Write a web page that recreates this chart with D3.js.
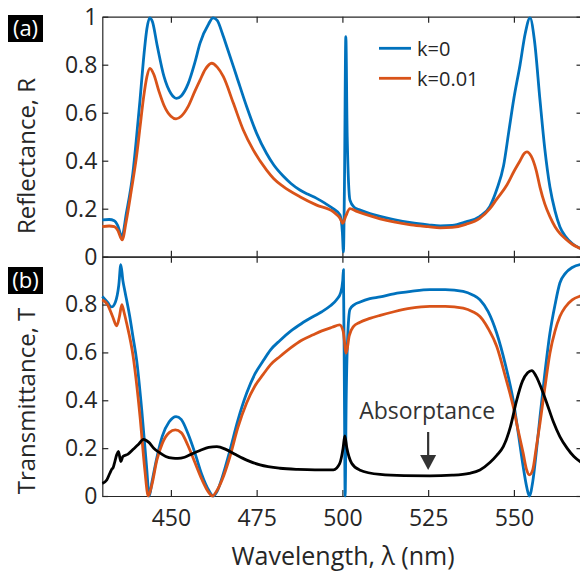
<!DOCTYPE html>
<html>
<head>
<meta charset="utf-8">
<script src="https://cdn.jsdelivr.net/npm/d3@7"></script>
<style>
  body { margin: 0; background: #fff; }
  text { font-family: "Open Sans", sans-serif; fill: #262626; }
  .axis path, .axis line { stroke: #262626; stroke-width: 1.2; }
  .axis text { font-size: 23px; }
  .line { fill: none; stroke-width: 2.8; stroke-linejoin: round; }
</style>
</head>
<body>
<div id="chart"></div>
<script>

// tick values
var wavelengthTicks = [450, 475, 500, 525, 550];
var reflTicks = [0, 0.2, 0.4, 0.6, 0.8, 1];
var transTicks = [0, 0.2, 0.4, 0.6, 0.8];

// reflectance, k=0  [wavelength nm, R]
var reflK0 = [
  [430,0.153],[432,0.155],[433.5,0.15],[434.5,0.13],[435.7,0.083],[437,0.18],
  [438.9,0.347],[440,0.50],[441,0.653],[442,0.82],[443,0.95],[443.8,0.995],
  [444.6,0.98],[446,0.88],[448,0.75],[450,0.68],[451.6,0.66],[453,0.67],
  [455,0.72],[457,0.81],[458.5,0.89],[461,0.97],[462.3,0.995],[463.5,0.985],
  [465,0.93],[466.3,0.875],[469.2,0.75],[472.1,0.625],[475,0.514],[477.9,0.43],
  [480,0.382],[482.8,0.335],[485,0.305],[487.6,0.278],[490,0.26],[492.5,0.243],
  [495,0.222],[497.3,0.20],[499.3,0.174],[500,0.1],[500.3,0.02],[500.6,0.3],
  [501,0.917],[501.4,0.5],[502.2,0.236],[503.5,0.205],[505,0.195],[508,0.18],
  [511,0.168],[515,0.155],[520,0.142],[525,0.133],[528.5,0.128],[532,0.13],
  [536,0.145],[540,0.167],[543,0.21],[545,0.28],[547,0.38],[548.5,0.52],
  [550,0.66],[551.8,0.80],[553.3,0.93],[554.7,0.995],[556,0.90],[557.6,0.653],
  [559,0.45],[560.5,0.29],[562,0.19],[563.4,0.125],[565,0.085],[567,0.055],
  [569.3,0.035],[570,0.03]
];

// reflectance, k=0.01
var reflK1 = [
  [430,0.125],[432,0.128],[433.5,0.125],[434.5,0.11],[435.8,0.07],[437,0.15],
  [438.5,0.28],[440,0.42],[441,0.54],[442,0.66],[443,0.75],[443.9,0.785],
  [445,0.76],[446.5,0.69],[448,0.63],[450,0.585],[451.5,0.574],[453,0.585],
  [455,0.625],[457,0.69],[458.5,0.736],[460,0.78],[461.9,0.806],[463.5,0.79],
  [465.3,0.75],[468.2,0.64],[471.1,0.528],[474,0.445],[477.9,0.361],[480,0.325],
  [482.8,0.292],[487.6,0.25],[492.5,0.215],[497.3,0.1875],[499.3,0.16],
  [500.1,0.139],[501,0.17],[502.2,0.2],[504,0.19],[507,0.175],[511,0.158],
  [515,0.145],[520,0.133],[525,0.125],[528.5,0.12],[532,0.122],[536,0.135],
  [540,0.16],[543,0.2],[545,0.24],[548,0.30],[550,0.355],[551.8,0.40],
  [553,0.43],[553.8,0.437],[555,0.42],[556.5,0.36],[557.6,0.29],[559,0.22],
  [560.5,0.167],[562,0.125],[563.4,0.097],[565,0.075],[567,0.052],
  [569.3,0.035],[570,0.03]
];

// transmittance, k=0
var transK0 = [
  [430,0.834],[431.5,0.81],[432.7,0.79],[433.8,0.81],[434.8,0.88],[435.4,0.967],
  [436,0.90],[436.6,0.855],[438,0.75],[439,0.66],[440,0.569],[441.5,0.36],
  [442.9,0.123],[443.7,0.0],[444.5,0.06],[445.9,0.16],[447.5,0.25],[449.5,0.31],
  [451.5,0.332],[453,0.32],[455,0.26],[457,0.18],[459,0.09],[461,0.025],
  [462.4,0.0],[463.5,0.02],[465,0.08],[467.2,0.19],[469.5,0.315],[472.1,0.43],
  [474.5,0.51],[476.9,0.565],[479,0.61],[481.8,0.65],[485,0.69],[488,0.72],
  [491.5,0.75],[494,0.77],[496.5,0.795],[498.3,0.82],[499.5,0.85],[500.1,0.9],
  [500.3,0.946],[500.6,0.4],[500.8,0.0],[501.1,0.4],[501.5,0.65],[502.2,0.78],
  [503.5,0.80],[505,0.81],[508,0.825],[511,0.832],[515,0.845],[520,0.855],
  [525.5,0.862],[530,0.862],[535.2,0.855],[538,0.84],[540.1,0.82],[542.5,0.77],
  [545,0.68],[547.5,0.55],[549.8,0.40],[551.3,0.26],[552.7,0.123],[553.7,0.04],
  [554.5,0.0],[555.5,0.06],[556.5,0.18],[557.6,0.33],[559,0.51],[560.5,0.68],
  [562,0.80],[563.4,0.89],[565,0.93],[567,0.955],[569.3,0.967],[570,0.968]
];

// transmittance, k=0.01
var transK1 = [
  [430,0.82],[431.5,0.80],[433,0.75],[434.2,0.711],[435,0.75],[435.7,0.80],
  [436.3,0.77],[437.1,0.722],[439,0.583],[441,0.332],[442.4,0.109],[443.4,0.0],
  [444.5,0.05],[445.9,0.15],[447.5,0.22],[449.5,0.265],[451.3,0.276],[453,0.265],
  [455,0.21],[457,0.14],[459,0.07],[461,0.015],[462.1,0.0],[463.3,0.02],
  [465,0.07],[467.2,0.164],[469.5,0.285],[472.1,0.39],[474.5,0.46],[476.9,0.508],
  [479,0.548],[481.8,0.583],[485,0.62],[488,0.65],[491.5,0.674],[494,0.69],
  [497,0.705],[499.2,0.715],[500.2,0.69],[501.1,0.597],[502,0.67],[503.2,0.708],
  [505,0.725],[508,0.742],[511,0.755],[515,0.77],[520,0.785],[525.5,0.792],
  [530,0.792],[535.2,0.785],[538,0.77],[540.1,0.75],[542.5,0.70],[545,0.625],
  [547.5,0.50],[549.8,0.374],[551.3,0.27],[552.7,0.179],[553.7,0.11],
  [554.5,0.088],[555.5,0.11],[556.5,0.2],[557.6,0.304],[559,0.45],[560.5,0.597],
  [562,0.69],[563.4,0.75],[565,0.79],[567,0.82],[569.3,0.835],[570,0.838]
];

// absorptance, k=0.01
var absorb = [
  [430,0.053],[431.3,0.067],[432.2,0.095],[432.7,0.11],[433.2,0.12],[433.5,0.135],
  [434.2,0.172],[434.7,0.186],[435.4,0.144],[436,0.165],[437.5,0.175],[439,0.195],
  [440.5,0.215],[442,0.237],[443.5,0.225],[445,0.2],[446.8,0.18],[448.5,0.165],
  [450.5,0.158],[452,0.157],[454,0.162],[456,0.175],[458.5,0.19],[461,0.203],
  [463.4,0.206],[466,0.195],[469,0.172],[472.1,0.15],[476,0.13],[481.8,0.116],
  [487,0.111],[492,0.109],[497.4,0.109],[499.2,0.135],[500.2,0.2],[500.7,0.251],
  [501.3,0.2],[502.7,0.137],[505,0.109],[511,0.09],[518,0.085],[525.5,0.084],
  [532,0.087],[537,0.095],[540.1,0.109],[543,0.14],[545,0.17],[546.9,0.206],
  [549,0.29],[550.8,0.40],[552.5,0.48],[554,0.515],[555.2,0.524],[556.5,0.5],
  [558,0.45],[559.6,0.388],[561.5,0.31],[563.4,0.248],[565.5,0.2],[567.5,0.165],
  [569.3,0.144],[570,0.138]
];

var blue = "#0072BD", orange = "#D95319";

// page size and panel boxes
var width = 580, height = 576;
var left = 102.3, right = 582.5;
var aTop = 16.7, aBottom = 256.7, bTop = 256.7, bBottom = 496;
var tick = 6;

var svg = d3.select("#chart").append("svg")
    .attr("width", width)
    .attr("height", height);

// scales
var x = d3.scaleLinear().domain([430, 570]).range([left, right]);
var yA = d3.scaleLinear().domain([0, 1]).range([aBottom, aTop]);
var yB = d3.scaleLinear().domain([0, 1]).range([bBottom, bTop]);

var fmt = d3.format("~g");

// draws the four sides of a panel
function drawAxes(y, yTop, yBot, yTickVals, showX) {
  svg.append("g").attr("class", "axis")
      .attr("transform", "translate(0," + yTop + ")")
      .call(d3.axisTop(x).tickValues(wavelengthTicks).tickSizeInner(-tick).tickSizeOuter(0).tickFormat(""));
  svg.append("g").attr("class", "axis")
      .attr("transform", "translate(0," + yBot + ")")
      .call(d3.axisBottom(x).tickValues(wavelengthTicks).tickSizeInner(-tick).tickSizeOuter(0)
            .tickPadding(14).tickFormat(showX ? fmt : ""));
  svg.append("g").attr("class", "axis")
      .attr("transform", "translate(" + left + ",0)")
      .call(d3.axisLeft(y).tickValues(yTickVals).tickSizeInner(-tick).tickSizeOuter(0)
            .tickPadding(5).tickFormat(fmt));
  svg.append("g").attr("class", "axis")
      .attr("transform", "translate(" + right + ",0)")
      .call(d3.axisRight(y).tickValues(yTickVals).tickSizeInner(-tick).tickSizeOuter(0).tickFormat(""));
}

drawAxes(yA, aTop, aBottom, reflTicks, false);
drawAxes(yB, bTop, bBottom, transTicks, true);

// lines
function addLine(data, y, color) {
  svg.append("path")
      .datum(data)
      .attr("class", "line")
      .style("stroke", color)
      .attr("d", d3.line()
          .curve(d3.curveMonotoneX)
          .x(function(d) { return x(d[0]); })
          .y(function(d) { return y(d[1]); }));
}

addLine(reflK0, yA, blue);
addLine(reflK1, yA, orange);
addLine(transK0, yB, blue);
addLine(transK1, yB, orange);
addLine(absorb, yB, "#000");

// legend
var legend = [{label: "k=0", color: blue, y: 48.3}, {label: "k=0.01", color: orange, y: 78.3}];
legend.forEach(function(d) {
  svg.append("line")
      .attr("x1", 379).attr("x2", 411)
      .attr("y1", d.y).attr("y2", d.y)
      .style("stroke", d.color).style("stroke-width", 2.8);
  svg.append("text")
      .attr("x", 417).attr("y", d.y + 7.5)
      .style("font-size", "20px")
      .text(d.label);
});

// absorptance annotation
var ax = x(525);
svg.append("text")
    .attr("x", ax - 1).attr("y", 419)
    .attr("text-anchor", "middle")
    .style("font-size", "23px").style("fill", "#333")
    .text("Absorptance");
svg.append("line")
    .attr("x1", ax).attr("x2", ax)
    .attr("y1", 432).attr("y2", 458)
    .style("stroke", "#333").style("stroke-width", 2.2);
svg.append("path")
    .attr("d", "M" + (ax - 8) + ",455L" + (ax + 8) + ",455L" + ax + ",470Z")
    .style("fill", "#333");

// axis titles
svg.append("text")
    .attr("transform", "translate(35,156) rotate(-90)")
    .attr("text-anchor", "middle")
    .style("font-size", "24px")
    .text("Reflectance, R");
svg.append("text")
    .attr("transform", "translate(35,401) rotate(-90)")
    .attr("text-anchor", "middle")
    .style("font-size", "24px")
    .text("Transmittance, T");
svg.append("text")
    .attr("x", 343).attr("y", 565)
    .attr("text-anchor", "middle")
    .style("font-size", "25px")
    .text("Wavelength, λ (nm)");

// panel tags
[{t: "(a)", y: 15}, {t: "(b)", y: 267}].forEach(function(d) {
  svg.append("rect")
      .attr("x", 8).attr("y", d.y)
      .attr("width", 35).attr("height", 27)
      .style("fill", "#000");
  svg.append("text")
      .attr("x", 25.5).attr("y", d.y + 21)
      .attr("text-anchor", "middle")
      .style("font-size", "22px").style("fill", "#fff")
      .text(d.t);
});

</script>
</body>
</html>
